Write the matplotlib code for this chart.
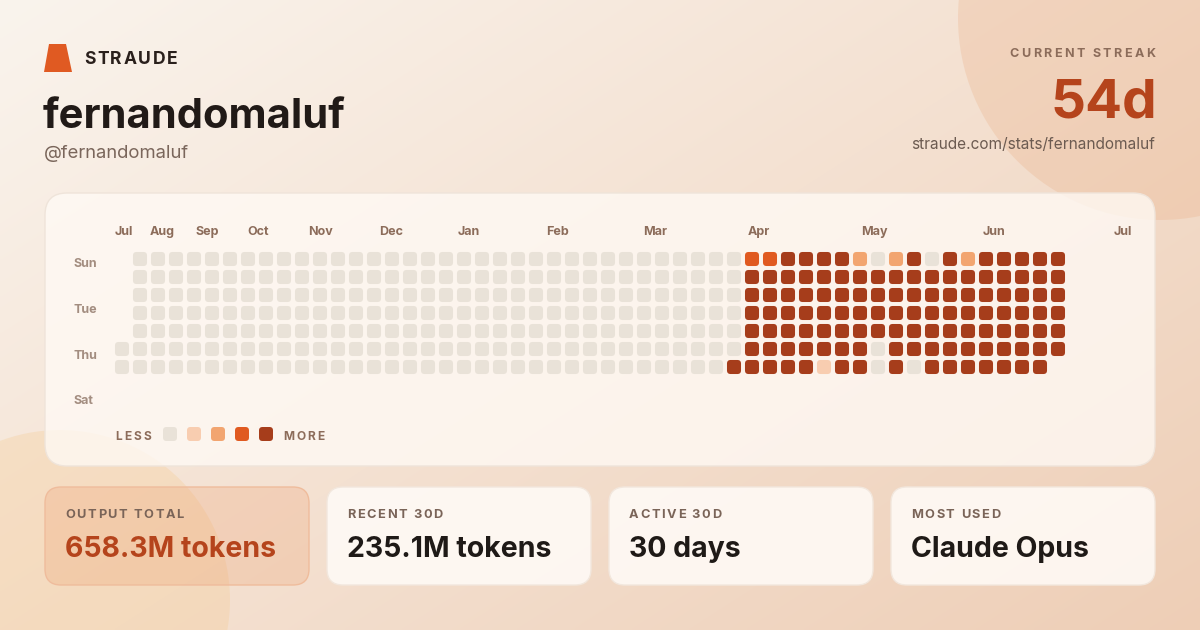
import numpy as np
import matplotlib
matplotlib.use("Agg")
import matplotlib.pyplot as plt
from matplotlib.patches import FancyBboxPatch, Circle, Polygon
from matplotlib.font_manager import FontProperties

FONT = ["Inter", "DejaVu Sans"]

# ================= DATA =================
brand = "STRAUDE"
user_name = "fernandomaluf"
user_handle = "@fernandomaluf"
streak_label = "CURRENT STREAK"
streak_value = "54d"
profile_url = "straude.com/stats/fernandomaluf"

month_labels = ["Jul", "Aug", "Sep", "Oct", "Nov", "Dec", "Jan",
                "Feb", "Mar", "Apr", "May", "Jun", "Jul"]
day_labels = ["Sun", "Tue", "Thu", "Sat"]

# one string per weekday (Sun..Sat), one char per week, '-' = no cell
# 0 = none ... 4 = most
activity_rows = [
    "-" "0000000000" "0000000000" "0000000000" "0000" "334444202404244444",
    "-" "0000000000" "0000000000" "0000000000" "0000" "444444444444444444",
    "-" "0000000000" "0000000000" "0000000000" "0000" "444444444444444444",
    "-" "0000000000" "0000000000" "0000000000" "0000" "444444444444444444",
    "-" "0000000000" "0000000000" "0000000000" "0000" "444444444444444444",
    "0" "0000000000" "0000000000" "0000000000" "0000" "4444444" "0" "4444444444",
    "0" "0000000000" "0000000000" "0000000000" "000" "4" "4444" "1" "44" "0" "4" "0" "4444444" "-",
]

level_colors = ["#e9e2d8", "#f8cdb0", "#f2a570", "#e05a20", "#a63d1b"]

stat_labels = ["OUTPUT TOTAL", "RECENT 30D", "ACTIVE 30D", "MOST USED"]
stat_values = ["658.3M tokens", "235.1M tokens", "30 days", "Claude Opus"]

# ================= FIGURE =================
fig = plt.figure(figsize=(12, 6.3), dpi=100)
bg = fig.add_axes([0, 0, 1, 1])
bg.set_xlim(0, 1200)
bg.set_ylim(630, 0)
bg.axis("off")
renderer = fig.canvas.get_renderer()

# background gradient
yy, xx = np.mgrid[0:630:3, 0:1200:3]
t = np.clip(0.55 * xx / 1200 + 0.45 * yy / 630, 0, 1)
c0 = np.array([250, 244, 237]) / 255
c1 = np.array([238, 206, 182]) / 255
bg.imshow(c0 + (c1 - c0) * t[..., None], extent=[0, 1200, 630, 0],
          aspect="auto", zorder=0, interpolation="bilinear")

# decorative circles
bg.add_patch(Circle((1160, 18), 202, fc=(0.91, 0.63, 0.44, 0.22), ec="none", zorder=1))
bg.add_patch(Circle((60, 600), 170, fc=(0.96, 0.80, 0.58, 0.32), ec="none", zorder=1))


def spaced_text(x, y, s, spacing, size, color, weight="bold", ha="left"):
    fp = FontProperties(family=FONT, weight=weight, size=size)

    def w(txt):
        return renderer.get_text_width_height_descent(txt, fp, ismath=False)[0]

    total = w(s) + spacing * (len(s) - 1)
    x0 = x - total if ha == "right" else x
    for i, ch in enumerate(s):
        if ch == " ":
            continue
        pos = w(s[:i + 1]) - w(ch)
        bg.text(x0 + pos + i * spacing, y, ch, fontproperties=fp,
                color=color, ha="left", va="baseline", zorder=5)


# ---- header ----
bg.add_patch(Polygon([(49, 44), (66, 44), (72, 72), (44, 72)],
                     closed=True, fc="#e05a22", ec="none", zorder=5))
spaced_text(84, 64, brand, 1.6, 12.6, "#2a201c")
bg.text(43, 128, user_name, family=FONT, weight="bold", size=30,
        color="#211a17", va="baseline", zorder=5)
bg.text(44, 158, user_handle, family=FONT, size=13.3, color="#7a665b",
        va="baseline", zorder=5)

spaced_text(1155, 57, streak_label, 2.4, 9, "#8c6c5a", ha="right")
bg.text(1157, 118, streak_value, family=FONT, weight="bold", size=39.5,
        color="#b5441c", ha="right", va="baseline", zorder=5)
bg.text(1155, 149, profile_url, family=FONT, size=11.1, color="#6c5b51",
        ha="right", va="baseline", zorder=5)

# ---- activity card ----
bg.add_patch(FancyBboxPatch((45, 193), 1110, 273,
                            boxstyle="round,pad=0,rounding_size=22",
                            fc=(1.0, 0.98, 0.96, 0.78), ec="#efe4da", lw=1, zorder=2))

month_x = [115, 150, 195, 247, 308, 379, 458, 546, 643, 748, 861, 983, 1114]
for lab, mx in zip(month_labels, month_x):
    bg.text(mx, 235, lab, family=FONT, weight="bold", size=9,
            color="#8c6c5a", va="baseline", zorder=5)

day_y = [267, 313, 359, 404]
for lab, dy in zip(day_labels, day_y):
    bg.text(73, dy, lab, family=FONT, weight="bold", size=9,
            color="#a38d80", va="baseline", zorder=5)

hax = fig.add_axes([113 / 1200, (630 - 376) / 630, 954 / 1200, 126 / 630])
hax.set_xlim(-0.5, 52.5)
hax.set_ylim(6.5, -0.5)
hax.axis("off")
hax.set_zorder(3)
for r, row in enumerate(activity_rows):
    for c, ch in enumerate(row):
        if ch == "-":
            continue
        hax.add_patch(FancyBboxPatch((c - 0.39, r - 0.39), 0.78, 0.78,
                                     boxstyle="round,pad=0,rounding_size=0.2",
                                     fc=level_colors[int(ch)], ec="none"))

# legend
spaced_text(115, 439.5, "LESS", 2.2, 8.6, "#8c6c5a")
for i, col in enumerate(level_colors):
    bg.add_patch(FancyBboxPatch((163 + 24 * i, 427), 14, 14,
                                boxstyle="round,pad=0,rounding_size=3.5",
                                fc=col, ec="none", zorder=5))
spaced_text(283, 439.5, "MORE", 2.2, 8.6, "#8c6c5a")

# ---- stat cards ----
card_x = [45, 327, 609, 891]
for i, (lab, val, cx) in enumerate(zip(stat_labels, stat_values, card_x)):
    if i == 0:
        fc, ec, vc = (0.93, 0.60, 0.40, 0.24), "#efbc9c", "#b5441c"
    else:
        fc, ec, vc = (1.0, 0.985, 0.97, 0.88), "#f2e7dd", "#1f1a17"
    bg.add_patch(FancyBboxPatch((cx, 487), 264, 98,
                                boxstyle="round,pad=0,rounding_size=16",
                                fc=fc, ec=ec, lw=1, zorder=2))
    spaced_text(cx + 20, 518, lab, 1.6, 9.2, "#7a6458")
    bg.text(cx + 20, 557, val, family=FONT, weight="bold", size=20.5,
            color=vc, va="baseline", zorder=5)

fig.savefig("out.png", dpi=100)
